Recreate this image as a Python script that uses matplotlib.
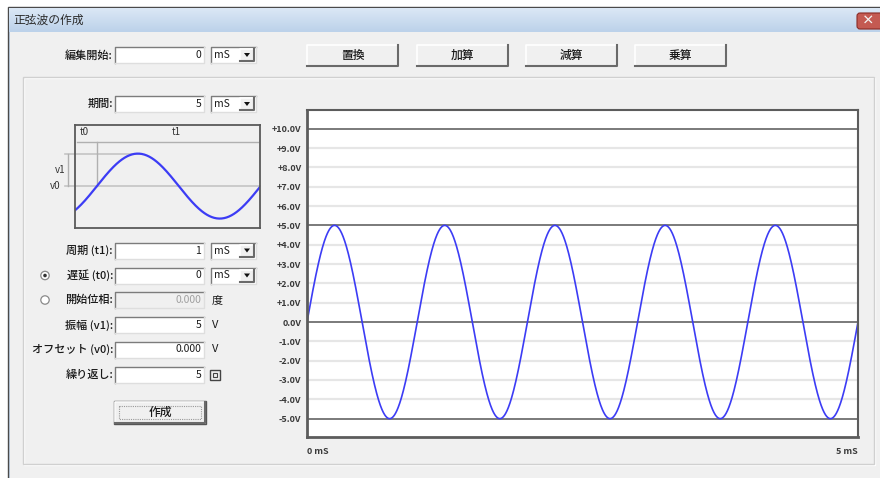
import numpy as np
import matplotlib
matplotlib.use("Agg")
import matplotlib.pyplot as plt
import matplotlib.patches as pth
from matplotlib.colors import LinearSegmentedColormap

plt.rcParams['font.family'] = ['Noto Sans CJK JP', 'DejaVu Sans']

# waveform settings shown in the dialog
period_ms = 1.0
delay_ms = 0.0
amplitude_v = 5.0
offset_v = 0.0
repeats = 5
span_ms = 5.0

volt_ticks = [10, 9, 8, 7, 6, 5, 4, 3, 2, 1, 0, -1, -2, -3, -4, -5]
volt_labels = ['+10.0V', '+9.0V', '+8.0V', '+7.0V', '+6.0V', '+5.0V', '+4.0V', '+3.0V',
               '+2.0V', '+1.0V', '0.0V', '-1.0V', '-2.0V', '-3.0V', '-4.0V', '-5.0V']
major_levels = [10, 5, 0, -5]
time_ticks = [0, 5]
time_labels = ['0 mS', '5 mS']

title = '正弦波の作成'
op_buttons = ['置換', '加算', '減算', '乗算']
edit_start = '0'
duration = '5'
field_labels = ['周期 (t1):', '遅延 (t0):', '開始位相:', '振幅 (v1):', 'オフセット (v0):', '繰り返し:']
field_values = ['1', '0', '0.000', '5', '0.000', '5']
field_units = ['mS', 'mS', '度', 'V', 'V', '回']

# preview sketch: one period shown, starting a bit before the delay point
pv_lead = 0.134
pv_span = 1.13

W, H = 880, 478
fig = plt.figure(figsize=(W / 100, H / 100), dpi=100)
fig.patch.set_facecolor('white')

bg = fig.add_axes([0, 0, 1, 1])
bg.axis('off')

TXT = '#1a1a1a'


def sunken(x0, y0, x1, y1, face='white'):
    bg.add_patch(pth.Rectangle((x0, y0), x1 - x0, y1 - y0, facecolor=face, edgecolor='none'))
    bg.plot([x0, x0, x1], [y1, y0, y0], color='#7c7c7c', lw=1)
    bg.plot([x0, x1, x1], [y1, y1, y0], color='#dedede', lw=1)


def raised(x0, y0, x1, y1, text=None, dark=False):
    bg.add_patch(pth.Rectangle((x0, y0), x1 - x0, y1 - y0, facecolor='#f0f0f0', edgecolor='none'))
    bg.plot([x0, x0, x1], [y1, y0, y0], color='white', lw=1.2)
    bg.plot([x0, x1, x1], [y1, y1, y0], color='#6a6a6a', lw=1.5)
    if dark:
        bg.add_patch(pth.Rectangle((x0 - 1, y0 - 1), x1 - x0 + 2, y1 - y0 + 2,
                                   facecolor='none', edgecolor='#555555', lw=1))
        bg.add_patch(pth.Rectangle((x0 + 4, y0 + 4), x1 - x0 - 8, y1 - y0 - 8,
                                   facecolor='none', edgecolor='#999999', lw=0.8, ls=(0, (1, 1))))
    if text:
        bg.text((x0 + x1) / 2, (y0 + y1) / 2, text, ha='center', va='center',
                fontsize=8.5, color=TXT, fontweight='medium')


def combo(x0, yc, text):
    sunken(x0, yc - 8, x0 + 45, yc + 8)
    bg.text(x0 + 3, yc, text, ha='left', va='center', fontsize=7.5, color=TXT)
    raised(x0 + 29, yc - 6, x0 + 43, yc + 6)
    bg.add_patch(pth.Polygon([[x0 + 33, yc - 2], [x0 + 39, yc - 2], [x0 + 36, yc + 2]],
                             facecolor='#111111', edgecolor='none'))


def field(yc, label, value, face='white', vcolor=TXT):
    bg.text(113, yc, label, ha='right', va='center', fontsize=8, color=TXT, fontweight='medium')
    sunken(115, yc - 8, 204, yc + 8, face)
    bg.text(201, yc, value, ha='right', va='center', fontsize=7.5, color=vcolor)


# window frame and title bar
bg.add_patch(pth.Rectangle((8, 7), 880, 480, facecolor='#c8daee', edgecolor='#4a4a4a', lw=1))
grad = np.linspace(0, 1, 30).reshape(-1, 1)
cmap = LinearSegmentedColormap.from_list('tb', ['#dbe7f5', '#bcd2ea'])
bg.imshow(grad, extent=(9, 880, 32, 8), aspect='auto', cmap=cmap, zorder=1)
bg.text(13, 20, title, ha='left', va='center', fontsize=8.5, color='#2a2a2a', zorder=2)
bg.add_patch(pth.FancyBboxPatch((857, 13), 30, 16, boxstyle='round,pad=0,rounding_size=3',
                                facecolor='#c45a52', edgecolor='#8a2a25', lw=0.8, zorder=2))
bg.text(868, 21, '×', ha='center', va='center', fontsize=9, color='#f4f4f4',
        fontweight='bold', zorder=3)
bg.add_patch(pth.Rectangle((10, 32), 880, 460, facecolor='#f0f0f0', edgecolor='none', zorder=1))
bg.set_xlim(0, W)
bg.set_ylim(H, 0)

# top row
bg.text(113, 55, '編集開始:', ha='right', va='center', fontsize=8, color=TXT, fontweight='medium')
sunken(115, 47, 204, 63)
bg.text(201, 55, edit_start, ha='right', va='center', fontsize=7.5, color=TXT)
combo(211, 55, 'mS')
for x0, name in zip([307, 417, 526, 635], op_buttons):
    raised(x0, 45, x0 + 91, 66, name)

# group panel
bg.add_patch(pth.Rectangle((24, 78), 851, 387, facecolor='none', edgecolor='white', lw=1))
bg.add_patch(pth.Rectangle((23, 77), 851, 387, facecolor='none', edgecolor='#d0d0d0', lw=1))

# duration row
bg.text(113, 104, '期間:', ha='right', va='center', fontsize=8, color=TXT, fontweight='medium')
sunken(115, 96, 204, 112)
bg.text(201, 104, duration, ha='right', va='center', fontsize=7.5, color=TXT)
combo(211, 104, 'mS')

# parameter rows
rows = [250.5, 275.5, 300, 325, 349.5, 375]
for i, (yc, lab, val, unit) in enumerate(zip(rows, field_labels, field_values, field_units)):
    disabled = i == 2
    field(yc, lab, val, face='#f0f0f0' if disabled else 'white',
          vcolor='#a0a0a0' if disabled else TXT)
    if unit == 'mS':
        combo(211, yc, unit)
    elif unit == '回':
        bg.add_patch(pth.Rectangle((210, yc - 5), 10, 10, facecolor='none',
                                   edgecolor='#444444', lw=1))
        bg.add_patch(pth.Rectangle((213, yc - 2), 4, 4, facecolor='none',
                                   edgecolor='#444444', lw=0.8))
    else:
        bg.text(212, yc, unit, ha='left', va='center', fontsize=8, color=TXT)

# radio buttons
for yc, on in [(rows[1], True), (rows[2], False)]:
    bg.add_patch(pth.Circle((45, yc), 4.2, facecolor='white', edgecolor='#8a8a8a', lw=0.9))
    if on:
        bg.add_patch(pth.Circle((45, yc), 1.8, facecolor='#333333', edgecolor='none'))

raised(115, 402, 205, 423, '作成', dark=True)

# preview sketch
pv = fig.add_axes([75 / W, 1 - 228 / H, 185 / W, 103 / H])
pv.set_facecolor('#f0f0f0')
pv.set_xlim(0, pv_span)
pv.set_ylim(-1.29, 1.88)
pv.set_xticks([])
pv.set_yticks([])
for s in pv.spines.values():
    s.set_color('#5a5a5a')
    s.set_linewidth(1.3)
gl = '#c4c4c4'
pv.plot([-0.061, pv_span], [0, 0], color=gl, lw=1.2, clip_on=False)
pv.plot([-0.061, 0.40], [1, 1], color=gl, lw=1.2, clip_on=False)
pv.plot([0.012, pv_span - 0.012], [1.354, 1.354], color='#b0b0b0', lw=1)
pv.plot([pv_lead, pv_lead], [0, 1.354], color='#b0b0b0', lw=1)
pv.plot([-0.043, -0.043], [0, 1], color='#b0b0b0', lw=1, clip_on=False)
pv.text(0.06, 1.65, 't0', ha='center', va='center', fontsize=7, color='#333333')
pv.text(0.62, 1.65, 't1', ha='center', va='center', fontsize=7, color='#333333')
pv.text(-0.06, 0.49, 'v1', ha='right', va='center', fontsize=7, color='#333333', clip_on=False)
pv.text(-0.09, 0.0, 'v0', ha='right', va='center', fontsize=7, color='#333333', clip_on=False)
px = np.linspace(0, pv_span, 300)
pv.plot(px, np.sin(2 * np.pi * (px - pv_lead)), color='#3c3cf5', lw=1.6)

# main waveform plot
ax = fig.add_axes([307 / W, 1 - 437 / H, (858 - 307) / W, (437 - 110) / H])
ax.set_facecolor('white')
ax.set_xlim(0, span_ms)
ax.set_ylim(-5.95, 10.97)
for v in volt_ticks:
    if v in major_levels:
        ax.axhline(v, color='#7a7a7a', lw=1.4, zorder=1)
    else:
        ax.axhline(v, color='#e6e6e6', lw=1.6, zorder=1)
t = np.linspace(0, repeats * period_ms, 2001)
wave = offset_v + amplitude_v * np.sin(2 * np.pi * (t - delay_ms) / period_ms)
ax.plot(t, wave, color='#3c3cf5', lw=1.2, zorder=2)

ax.set_yticks(volt_ticks, volt_labels, fontweight='bold')
ax.tick_params(axis='y', length=0, pad=4, labelsize=6.5, labelcolor='#3a3a3a')
ax.set_xticks(time_ticks, time_labels, fontweight='bold')
ax.tick_params(axis='x', length=0, pad=7, labelsize=6.5, labelcolor='#3a3a3a')
xl = ax.get_xticklabels()
xl[0].set_ha('left')
xl[1].set_ha('right')
for k, s in ax.spines.items():
    s.set_color('#5c5c5c')
    s.set_linewidth(2 if k in ('left', 'bottom') else 1.5)

fig.savefig('out.png', dpi=100, facecolor=fig.get_facecolor())
